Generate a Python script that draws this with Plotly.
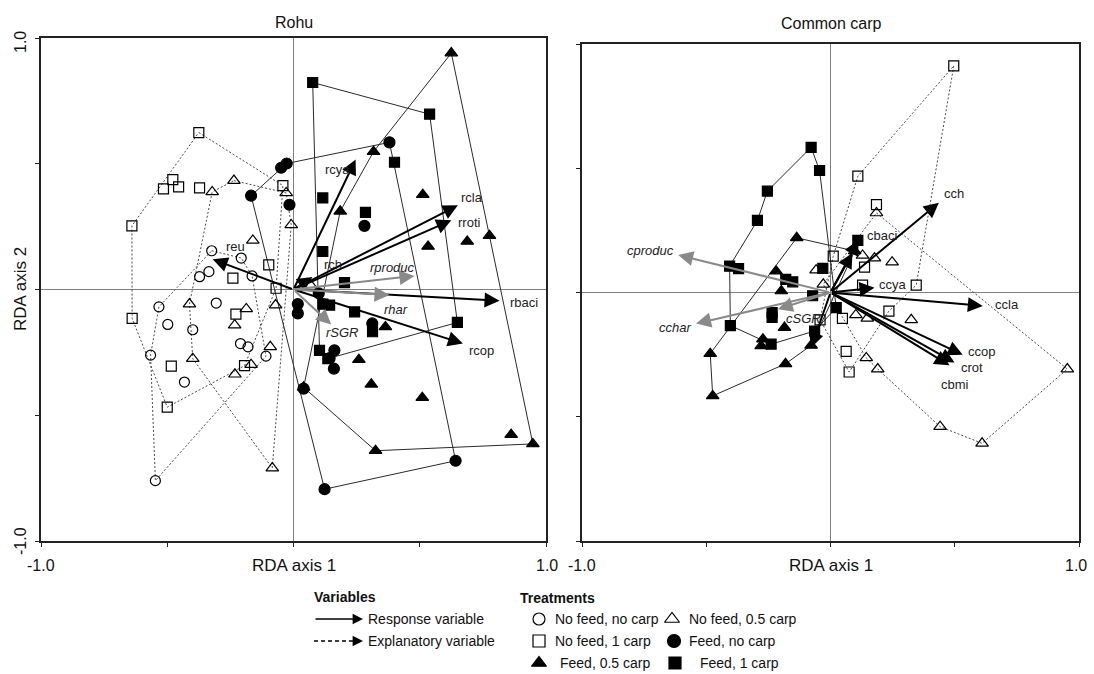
import plotly.graph_objects as go

W, H = 1094, 674

# ---------------- data: Rohu (RDA sample scores) ----------------
rohu_nfnc_x = [-0.324, -0.207, -0.164, -0.372, -0.335, -0.533, -0.306, -0.498, -0.399, -0.566, -0.210, -0.180, -0.109, -0.432, -0.547]
rohu_nfnc_y = [0.154, 0.125, 0.054, 0.051, 0.071, -0.069, -0.054, -0.139, -0.160, -0.261, -0.215, -0.228, -0.265, -0.368, -0.760]
rohu_nfnc_hull = [0, 1, 2, 12, 14, 9, 5, 0]

rohu_nf1c_x = [-0.375, -0.478, -0.515, -0.455, -0.372, -0.042, -0.640, -0.098, -0.240, -0.069, -0.639, -0.228, -0.484, -0.194, -0.500]
rohu_nf1c_y = [0.624, 0.437, 0.400, 0.408, 0.404, 0.413, 0.253, 0.098, 0.045, 0.005, -0.115, -0.098, -0.305, -0.303, -0.468]
rohu_nf1c_hull = [0, 5, 9, 13, 14, 10, 6, 0]

rohu_nf05c_x = [-0.236, -0.322, -0.029, -0.009, -0.161, -0.071, -0.412, -0.187, -0.233, -0.399, -0.092, -0.168, -0.232, -0.084, 0.067]
rohu_nf05c_y = [0.433, 0.388, 0.384, 0.257, 0.195, -0.062, -0.058, -0.077, -0.142, -0.275, -0.228, -0.299, -0.337, -0.710, 0.018]
rohu_nf05c_hull = [0, 2, 3, 13, 9, 6, 1, 0]

rohu_fnc_x = [-0.049, -0.027, -0.168, -0.016, 0.380, 0.281, 0.100, 0.017, 0.017, 0.312, 0.162, 0.143, 0.160, 0.040, 0.642, 0.123]
rohu_fnc_y = [0.484, 0.501, 0.373, 0.337, 0.585, 0.253, -0.015, -0.058, -0.095, -0.135, -0.242, -0.273, -0.315, -0.394, -0.681, -0.794]
rohu_fnc_hull = [2, 0, 1, 4, 14, 15, 2]

rohu_f05c_x = [0.625, 0.317, 0.185, 0.512, 0.533, 0.688, 0.776, 0.364, 0.259, 0.308, 0.510, 0.862, 0.948, 0.325, 0.040]
rohu_f05c_y = [0.940, 0.548, 0.311, 0.377, 0.171, 0.191, 0.214, -0.149, -0.279, -0.377, -0.430, -0.577, -0.614, -0.641, -0.389]
rohu_f05c_hull = [0, 12, 13, 14, 2, 1, 0]

rohu_f1c_x = [0.076, 0.539, 0.400, 0.116, 0.285, 0.116, 0.202, 0.242, 0.116, 0.143, 0.313, 0.649, 0.103, 0.136]
rohu_f1c_y = [0.823, 0.697, 0.506, 0.364, 0.307, 0.151, 0.027, -0.089, -0.058, -0.062, -0.168, -0.131, -0.242, -0.275]
rohu_f1c_hull = [0, 1, 11, 13, 12, 0]

rohu_resp_names = ["rcya", "rcla", "rroti", "rch", "rbaci", "rcop", "reu"]
rohu_resp_x = [0.246, 0.651, 0.625, 0.075, 0.816, 0.671, -0.320]
rohu_resp_y = [0.517, 0.335, 0.275, 0.050, -0.045, -0.215, 0.120]
rohu_expl_names = ["rproduc", "rhar", "rSGR"]
rohu_expl_x = [0.479, 0.380, 0.149]
rohu_expl_y = [0.054, -0.022, -0.139]

# ---------------- data: Common carp ----------------
carp_nf1c_x = [0.496, 0.110, 0.185, 0.011, 0.137, 0.129, 0.345, 0.235, 0.048, 0.063, 0.075, -0.042]
carp_nf1c_y = [0.912, 0.468, 0.354, 0.146, 0.102, 0.030, 0.030, -0.075, -0.104, -0.237, -0.320, -0.110]
carp_nf1c_hull = [0, 6, 7, 10, 11, 3, 1, 0]

carp_nf05c_x = [0.185, 0.129, 0.177, 0.248, -0.058, -0.029, 0.102, 0.148, 0.325, 0.144, 0.190, 0.441, 0.610, 0.953]
carp_nf05c_y = [0.320, 0.149, 0.138, 0.122, 0.090, 0.033, -0.090, -0.104, -0.110, -0.263, -0.308, -0.540, -0.607, -0.308]
carp_nf05c_hull = [0, 13, 12, 11, 10, 9, 5, 0]

carp_f05c_x = [-0.136, -0.219, -0.198, -0.185, -0.272, -0.279, -0.078, -0.181, 0.097, -0.484, -0.474]
carp_f05c_y = [0.220, 0.086, 0.006, -0.141, -0.188, -0.215, -0.213, -0.287, 0.167, -0.246, -0.416]
carp_f05c_hull = [0, 8, 6, 7, 10, 9, 0]

carp_f1c_x = [-0.078, -0.044, -0.254, -0.294, -0.406, -0.370, -0.180, -0.152, -0.072, -0.235, -0.235, -0.403, -0.239, -0.064, 0.023, -0.031, 0.110]
carp_f1c_y = [0.584, 0.491, 0.408, 0.290, 0.106, 0.096, 0.053, 0.043, -0.013, -0.081, -0.100, -0.133, -0.208, -0.155, -0.061, 0.097, 0.210]
carp_f1c_hull = [0, 1, 14, 13, 12, 11, 4, 3, 2, 0]

carp_resp_names = ["cch", "cbaci", "ccya", "ccla", "ccop", "crot", "cbmi", "", ""]
carp_resp_x = [0.436, 0.113, 0.177, 0.613, 0.532, 0.499, 0.479, 0.088, -0.078]
carp_resp_y = [0.361, 0.211, 0.019, -0.054, -0.251, -0.282, -0.293, 0.159, -0.222]
carp_expl_names = ["cproduc", "cchar", "cSGR"]
carp_expl_x = [-0.613, -0.541, -0.212]
carp_expl_y = [0.151, -0.125, -0.067]

treatment_names = ["No feed, no carp", "No feed, 0.5 carp", "No feed, 1 carp", "Feed, no carp", "Feed, 0.5 carp", "Feed, 1 carp"]

# ---------------- styling / layout helpers ----------------
FONT = "Liberation Sans, Arial, Helvetica, sans-serif"
def px(x):
    return x / W
def py(y):
    return 1 - y / H

# label placement relative to arrow tip: (xanchor, xshift, yshift)
label_pos = {
    "rcya": ("right", -4, -10), "rcla": ("left", 1, 8), "rroti": ("left", 5, -2),
    "rch": ("left", 10, 12), "rbaci": ("left", 8, -2), "rcop": ("left", 4, -7),
    "reu": ("left", 11, 13), "rproduc": ("center", -22, 8), "rhar": ("center", 7, -14),
    "rSGR": ("center", 11, -8),
    "cch": ("left", 3, 9), "cbaci": ("left", 6, 5), "ccya": ("left", 3, 3),
    "ccla": ("left", 10, 1), "ccop": ("left", 3, 3), "crot": ("left", 5, -5),
    "cbmi": ("center", 5, -19), "cproduc": ("right", -2, 4), "cchar": ("right", -3, -4),
    "cSGR": ("left", 6, -9),
}

sym = {
    "nfnc": ("circle-open", 10), "nf05c": ("triangle-up-open", 11), "nf1c": ("square-open", 10),
    "fnc": ("circle", 11), "f05c": ("triangle-up", 11), "f1c": ("square", 10),
}

fig = go.Figure()

panels = [
    ("x", "y", [
        ("nfnc", rohu_nfnc_x, rohu_nfnc_y, rohu_nfnc_hull),
        ("nf1c", rohu_nf1c_x, rohu_nf1c_y, rohu_nf1c_hull),
        ("nf05c", rohu_nf05c_x, rohu_nf05c_y, rohu_nf05c_hull),
        ("fnc", rohu_fnc_x, rohu_fnc_y, rohu_fnc_hull),
        ("f05c", rohu_f05c_x, rohu_f05c_y, rohu_f05c_hull),
        ("f1c", rohu_f1c_x, rohu_f1c_y, rohu_f1c_hull),
    ]),
    ("x2", "y2", [
        ("nf1c", carp_nf1c_x, carp_nf1c_y, carp_nf1c_hull),
        ("nf05c", carp_nf05c_x, carp_nf05c_y, carp_nf05c_hull),
        ("f05c", carp_f05c_x, carp_f05c_y, carp_f05c_hull),
        ("f1c", carp_f1c_x, carp_f1c_y, carp_f1c_hull),
    ]),
]

for xa, ya, groups in panels:
    for key, xs, ys, hull in groups:
        dotted = key.startswith("nf")
        fig.add_trace(go.Scatter(
            x=[xs[i] for i in hull], y=[ys[i] for i in hull], mode="lines",
            line=dict(color="#4a4a4a" if dotted else "#2a2a2a", width=1,
                      dash="2px,2px" if dotted else "solid"),
            xaxis=xa, yaxis=ya, hoverinfo="skip", showlegend=False))
    for key, xs, ys, hull in groups:
        s, size = sym[key]
        fig.add_trace(go.Scatter(
            x=xs, y=ys, mode="markers",
            marker=dict(symbol=s, size=size, color="black", line=dict(color="black", width=1.2)),
            xaxis=xa, yaxis=ya, hoverinfo="skip", showlegend=False))

annotations = []
def add_arrows(names, xs, ys, xref, yref, color, italic):
    for n, x, y in zip(names, xs, ys):
        annotations.append(dict(
            x=x, y=y, ax=0, ay=0, xref=xref, yref=yref, axref=xref, ayref=yref,
            text="", showarrow=True, arrowhead=2, arrowsize=1.5, arrowwidth=2,
            arrowcolor=color, standoff=0))
        if n:
            xan, xs_, ys_ = label_pos[n]
            annotations.append(dict(
                x=x, y=y, xref=xref, yref=yref, showarrow=False,
                text=f"<i>{n}</i>" if italic else n, xanchor=xan, yanchor="middle",
                xshift=xs_, yshift=ys_, font=dict(family=FONT, size=13, color="#222")))

GREY = "#8a8a8a"
add_arrows(rohu_resp_names, rohu_resp_x, rohu_resp_y, "x", "y", "black", False)
add_arrows(rohu_expl_names, rohu_expl_x, rohu_expl_y, "x", "y", GREY, True)
add_arrows(carp_resp_names, carp_resp_x, carp_resp_y, "x2", "y2", "black", False)
add_arrows(carp_expl_names, carp_expl_x, carp_expl_y, "x2", "y2", GREY, True)

def text_at(x, y, t, size, angle=0, xanchor="center", bold=False):
    annotations.append(dict(
        x=px(x), y=py(y), xref="paper", yref="paper", showarrow=False,
        text=f"<b>{t}</b>" if bold else t, textangle=angle, xanchor=xanchor, yanchor="middle",
        font=dict(family=FONT, size=size, color="#111")))

# titles and axis labels
text_at(294, 22, "Rohu", 16)
text_at(831, 23, "Common carp", 16)
text_at(294, 565, "RDA axis 1", 17)
text_at(831, 565, "RDA axis 1", 17)
text_at(20, 289, "RDA axis 2", 17, angle=-90)
text_at(20, 42, "1.0", 16, angle=-90)
text_at(20, 541, "-1.0", 16, angle=-90)
text_at(41, 565, "-1.0", 16)
text_at(547, 565, "1.0", 16)
text_at(582, 565, "-1.0", 16)
text_at(1076, 565, "1.0", 16)

# ---------------- legend ----------------
LF = 14
text_at(312, 597, "Variables", LF, xanchor="left", bold=True)
text_at(518, 598, "Treatments", LF, xanchor="left", bold=True)
text_at(366, 619, "Response variable", LF, xanchor="left")
text_at(366, 641, "Explanatory variable", LF, xanchor="left")
annotations.append(dict(x=px(363), y=py(619), xref="paper", yref="paper", ax=-49, ay=0,
                        text="", showarrow=True, arrowhead=2, arrowsize=1.3, arrowwidth=1.6,
                        arrowcolor="black", standoff=0))
annotations.append(dict(x=px(363), y=py(641), xref="paper", yref="paper", ax=-10, ay=0,
                        text="", showarrow=True, arrowhead=2, arrowsize=1.3, arrowwidth=1.6,
                        arrowcolor="black", standoff=0))
shapes = [dict(type="line", xref="paper", yref="paper", x0=px(314), x1=px(355), y0=py(641), y1=py(641),
               line=dict(color="black", width=1.6, dash="4px,3px"))]

leg_keys = ["nfnc", "nf05c", "nf1c", "fnc", "f05c", "f1c"]
leg_marker_xy = [(539, 619), (672, 619), (539, 641), (674, 641), (539, 663), (675, 663)]
leg_text_xy = [(553, 619), (687, 619), (553, 641), (687, 641), (558, 663), (698, 663)]
for k, (mx, my), (tx, ty), name in zip(leg_keys, leg_marker_xy, leg_text_xy, treatment_names):
    s, size = sym[k]
    fig.add_trace(go.Scatter(x=[mx], y=[my], mode="markers", xaxis="x3", yaxis="y3",
                             marker=dict(symbol=s, size=size + 2, color="black",
                                         line=dict(color="black", width=1.2)),
                             hoverinfo="skip", showlegend=False))
    text_at(tx, ty, name, LF, xanchor="left")

axis_common = dict(range=[-1, 1], showgrid=False, zeroline=True, zerolinecolor="#7f7f7f",
                   zerolinewidth=1, showline=True, mirror=True, linecolor="#222", linewidth=1.5,
                   ticks="outside", ticklen=4, tickwidth=1.2, tickcolor="#222",
                   tickvals=[-1, -0.5, 0, 0.5, 1], showticklabels=False, fixedrange=True)

fig.update_layout(
    width=W, height=H, margin=dict(l=0, r=0, t=0, b=0),
    paper_bgcolor="white", plot_bgcolor="rgba(0,0,0,0)", showlegend=False,
    font=dict(family=FONT, color="#111"),
    xaxis=dict(domain=[px(41), px(546)], anchor="y", **axis_common),
    yaxis=dict(domain=[py(541), py(38)], anchor="x", **axis_common),
    xaxis2=dict(domain=[px(582), px(1079)], anchor="y2", **axis_common),
    yaxis2=dict(domain=[py(541), py(44)], anchor="x2", **axis_common),
    xaxis3=dict(domain=[0, 1], range=[0, W], visible=False, anchor="y3", fixedrange=True),
    yaxis3=dict(domain=[0, 1], range=[H, 0], visible=False, anchor="x3", fixedrange=True),
    annotations=annotations, shapes=shapes,
)

fig.write_html("out.html", config={"displayModeBar": False},
               post_script="document.body.style.margin='0px';document.body.style.overflow='hidden';")
